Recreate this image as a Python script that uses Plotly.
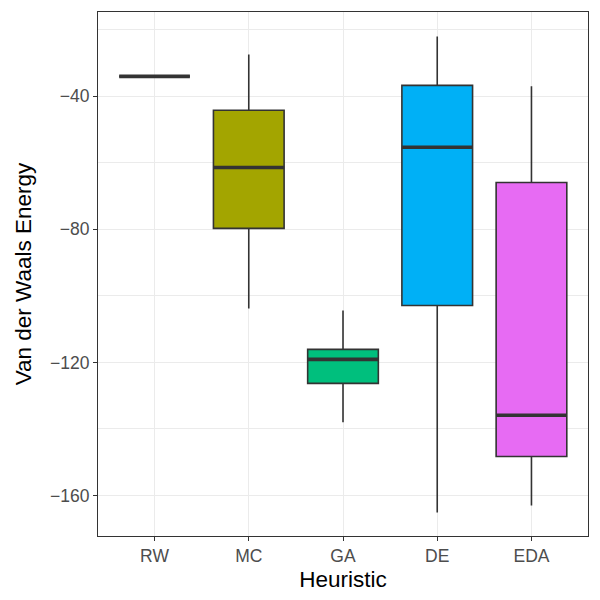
import plotly.graph_objects as go

categories = ["RW", "MC", "GA", "DE", "EDA"]
lower_whisker = [-34.0, -103.8, -138.0, -165.1, -163.0]
q1_vals = [-34.0, -79.7, -126.3, -102.9, -148.3]
medians = [-34.0, -61.4, -119.1, -55.3, -135.9]
q3_vals = [-34.0, -44.2, -116.1, -36.7, -65.9]
upper_whisker = [-34.0, -27.4, -104.4, -22.0, -37.0]
colors = ["#F8766D", "#A3A500", "#00BF7D", "#00B0F6", "#E76BF3"]

BOX_W = 0.75
fig = go.Figure()
for i, c in enumerate(categories):
    fig.add_trace(go.Box(
        x=[i], q1=[q1_vals[i]], median=[medians[i]], q3=[q3_vals[i]],
        lowerfence=[lower_whisker[i]], upperfence=[upper_whisker[i]],
        fillcolor=colors[i], line=dict(color="#333333", width=1.6),
        whiskerwidth=0, width=BOX_W, boxpoints=False, showlegend=False,
        hoverinfo="skip",
    ))
    # thicker median line like ggplot
    fig.add_trace(go.Scatter(
        x=[i - BOX_W / 2, i + BOX_W / 2], y=[medians[i], medians[i]],
        mode="lines", line=dict(color="#333333", width=3.6),
        showlegend=False, hoverinfo="skip",
    ))

grid = "#EBEBEB"
fig.update_layout(
    width=600, height=600,
    margin=dict(l=97.5, r=12, t=11.7, b=64.3),
    plot_bgcolor="white", paper_bgcolor="white",
    font=dict(family="Liberation Sans, Arial, sans-serif"),
)
fig.update_xaxes(
    range=[-0.6, 4.6], tickmode="array", tickvals=list(range(len(categories))),
    ticktext=categories, showgrid=True, gridcolor=grid, gridwidth=1.3,
    zeroline=False, showline=True, linecolor="#333333", linewidth=1.2, mirror=True,
    ticks="outside", ticklen=4, tickcolor="#333333", tickwidth=1.2,
    tickfont=dict(size=17.5, color="#4D4D4D"),
    title=dict(text="Heuristic", font=dict(size=22.5, color="black"), standoff=6),
)
fig.update_yaxes(
    range=[-172.2, -14.65], tickmode="array", tickvals=[-160, -120, -80, -40],
    ticktext=["\u2212160", "\u2212120", "\u221280", "\u221240"],
    showgrid=True, gridcolor=grid, gridwidth=1.3,
    minor=dict(tickvals=[-140, -100, -60, -20], showgrid=True, gridcolor=grid, gridwidth=0.7, ticks=""),
    zeroline=False, showline=True, linecolor="#333333", linewidth=1.2, mirror=True,
    ticks="outside", ticklen=4, tickcolor="#333333", tickwidth=1.2,
    tickfont=dict(size=17.5, color="#4D4D4D"),
    title=dict(text="Van der Waals Energy", font=dict(size=22.5, color="black"), standoff=12),
)

fig.write_html("out.html")
